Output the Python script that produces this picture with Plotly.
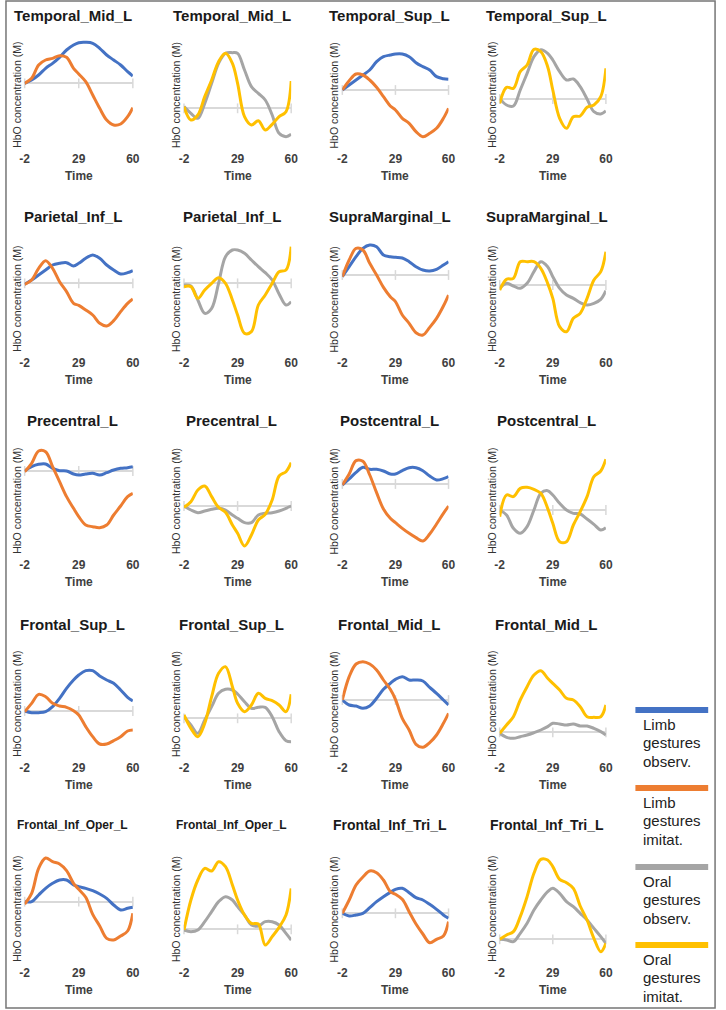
import plotly.graph_objects as go

W, H = 726, 1010
FONT = "Liberation Sans, Arial, sans-serif"

# ---------------- data ----------------
t = [-2, 2, 6, 10, 14, 18, 22, 26, 29, 33, 37, 41, 45, 49, 53, 57, 60]
x_ticks = [-2, 29, 60]
x_ticklabels = ["-2", "29", "60"]
y_title = "HbO concentration (M)"
x_title = "Time"

series_names = ["Limb gestures observ.", "Limb gestures imitat.",
                "Oral gestures observ.", "Oral gestures imitat."]
legend_lines = [["Limb", "gestures", "observ."], ["Limb", "gestures", "imitat."],
                ["Oral", "gestures", "observ."], ["Oral", "gestures", "imitat."]]
series_colors = ["#4472C4", "#ED7D31", "#A5A5A5", "#FFC000"]

region_titles = [
    ["Temporal_Mid_L", "Temporal_Mid_L", "Temporal_Sup_L", "Temporal_Sup_L"],
    ["Parietal_Inf_L", "Parietal_Inf_L", "SupraMarginal_L", "SupraMarginal_L"],
    ["Precentral_L", "Precentral_L", "Postcentral_L", "Postcentral_L"],
    ["Frontal_Sup_L", "Frontal_Sup_L", "Frontal_Mid_L", "Frontal_Mid_L"],
    ["Frontal_Inf_Oper_L", "Frontal_Inf_Oper_L", "Frontal_Inf_Tri_L", "Frontal_Inf_Tri_L"],
]

# HbO values (arbitrary units, relative to baseline 0)
tmid_limb_obs = [0, 10, 25, 45, 60, 78, 100, 115, 122, 123, 120, 105, 85, 70, 55, 35, 22]
tmid_limb_imi = [0, 15, 55, 70, 75, 83, 78, 45, 28, 5, -35, -75, -110, -125, -122, -100, -73]
tmid_oral_obs = [5, -15, -30, 15, 75, 135, 165, 167, 165, 115, 65, 45, 25, -20, -75, -85, -78]
tmid_oral_imi = [5, -35, -20, 35, 85, 140, 165, 135, 75, -25, -50, -37, -65, -48, -25, -10, 82]

tsup_limb_obs = [0, 15, 30, 45, 60, 85, 100, 105, 108, 108, 100, 82, 70, 60, 40, 34, 32]
tsup_limb_imi = [0, 28, 48, 45, 30, 8, -20, -48, -60, -85, -100, -125, -140, -130, -115, -85, -55]
tsup_oral_obs = [2, -18, -21, 27, 77, 127, 148, 137, 117, 82, 57, 60, 37, 0, -38, -45, -36]
tsup_oral_imi = [-13, 35, 32, 82, 102, 149, 142, 97, 27, -58, -88, -53, -51, -25, -18, 7, 92]

pinf_limb_obs = [-3, 10, 25, 40, 55, 60, 62, 52, 60, 75, 85, 75, 55, 40, 28, 32, 38]
pinf_limb_imi = [-3, 10, 45, 68, 45, 5, -25, -60, -66, -80, -95, -120, -128, -112, -85, -60, -47]
pinf_oral_obs = [-5, -8, -50, -90, -75, 0, 80, 100, 100, 90, 70, 50, 32, 10, -32, -65, -55]
pinf_oral_imi = [-10, -10, -45, -20, 0, 17, 0, -50, -95, -150, -145, -65, -35, 0, 35, 40, 110]

smarg_limb_obs = [-5, 25, 55, 80, 90, 85, 60, 55, 53, 51, 40, 25, 15, 12, 17, 30, 40]
smarg_limb_imi = [-5, 45, 80, 75, 35, 0, -37, -65, -80, -120, -145, -173, -180, -157, -130, -93, -60]
smarg_oral_obs = [-10, 5, -3, -10, 5, 40, 70, 55, 25, -10, -30, -40, -53, -60, -55, -43, -17]
smarg_oral_imi = [-15, 17, 20, 70, 70, 70, 50, 5, -40, -125, -140, -100, -85, -40, 15, 40, 100]

prec_limb_obs = [0, 13, 20, 21, 8, 1, 0, -9, -12, -9, -7, -12, -5, 3, 8, 10, 13]
prec_limb_imi = [-2, 23, 60, 58, 13, -32, -77, -112, -137, -162, -167, -170, -162, -132, -105, -77, -67]
prec_oral_obs = [0, -12, -20, -15, -10, -7, -12, -27, -37, -50, -50, -27, -22, -20, -15, -7, 0]
prec_oral_imi = [-4, 13, 48, 60, 28, -4, -19, -57, -82, -120, -87, -42, -25, 18, 90, 103, 130]

postc_limb_obs = [-3, 15, 35, 50, 44, 44, 39, 30, 30, 40, 49, 49, 40, 24, 12, 16, 22]
postc_limb_imi = [-3, 30, 70, 68, 27, -26, -75, -103, -116, -133, -148, -161, -171, -150, -120, -88, -66]
postc_oral_obs = [0, -15, -55, -70, -50, 0, 50, 58, 45, 20, 0, -10, -12, -27, -43, -60, -53]
postc_oral_imi = [-20, 45, 40, 65, 68, 62, 50, 5, -40, -95, -95, -45, -5, 40, 100, 117, 152]

fsup_limb_obs = [0, -5, -5, -2, 13, 38, 68, 93, 108, 121, 121, 105, 93, 83, 63, 41, 30]
fsup_limb_imi = [-2, 23, 50, 43, 23, 15, 11, 1, -12, -47, -77, -99, -99, -89, -77, -60, -57]
fsup_oral_obs = [5, -20, -45, -5, 35, 75, 87, 85, 73, 50, 30, 33, 33, 5, -40, -67, -70]
fsup_oral_imi = [10, -30, -55, -15, 65, 135, 155, 95, 45, 20, 40, 75, 60, 53, 40, 20, 72]

fmid_limb_obs = [0, -15, -18, -25, -18, 5, 32, 50, 62, 70, 60, 60, 57, 38, 20, 0, -15]
fmid_limb_imi = [0, 70, 108, 115, 108, 90, 60, 32, 2, -55, -90, -133, -142, -128, -105, -70, -40]
fmid_oral_obs = [-3, -15, -18, -13, -8, -1, 7, 17, 27, 25, 22, 25, 19, 19, 12, 2, -8]
fmid_oral_imi = [-3, 22, 47, 97, 137, 172, 185, 162, 147, 127, 102, 97, 77, 47, 45, 47, 82]

finfo_limb_obs = [0, 0, 20, 40, 55, 65, 65, 50, 45, 40, 33, 23, 10, -10, -25, -20, -17]
finfo_limb_imi = [-7, 25, 100, 131, 120, 113, 93, 55, 37, 13, -38, -73, -110, -115, -103, -88, -35]
finfo_oral_obs = [-2, -7, -2, 23, 53, 83, 98, 88, 68, 43, 13, 10, 23, 23, 13, -12, -32]
finfo_oral_imi = [-2, 88, 148, 183, 175, 203, 188, 133, 88, 43, 18, 16, -47, -22, 6, 43, 123]

ftri_limb_obs = [0, -8, -5, 0, 17, 35, 50, 63, 72, 75, 62, 47, 40, 27, 12, -5, -15]
ftri_limb_imi = [0, 40, 85, 109, 127, 122, 100, 65, 57, 42, 5, -32, -62, -88, -78, -68, -25]
ftri_oral_obs = [0, -2, -7, 18, 48, 88, 118, 143, 153, 138, 113, 98, 78, 58, 33, 8, -12]
ftri_oral_imi = [0, 13, 23, 68, 128, 198, 240, 238, 218, 180, 170, 153, 100, 58, 3, -37, -12]

# (series index list, value lists) per panel, row by row
panel_series = [
    [([0, 1], [tmid_limb_obs, tmid_limb_imi]), ([2, 3], [tmid_oral_obs, tmid_oral_imi]),
     ([0, 1], [tsup_limb_obs, tsup_limb_imi]), ([2, 3], [tsup_oral_obs, tsup_oral_imi])],
    [([0, 1], [pinf_limb_obs, pinf_limb_imi]), ([2, 3], [pinf_oral_obs, pinf_oral_imi]),
     ([0, 1], [smarg_limb_obs, smarg_limb_imi]), ([2, 3], [smarg_oral_obs, smarg_oral_imi])],
    [([0, 1], [prec_limb_obs, prec_limb_imi]), ([2, 3], [prec_oral_obs, prec_oral_imi]),
     ([0, 1], [postc_limb_obs, postc_limb_imi]), ([2, 3], [postc_oral_obs, postc_oral_imi])],
    [([0, 1], [fsup_limb_obs, fsup_limb_imi]), ([2, 3], [fsup_oral_obs, fsup_oral_imi]),
     ([0, 1], [fmid_limb_obs, fmid_limb_imi]), ([2, 3], [fmid_oral_obs, fmid_oral_imi])],
    [([0, 1], [finfo_limb_obs, finfo_limb_imi]), ([2, 3], [finfo_oral_obs, finfo_oral_imi]),
     ([0, 1], [ftri_limb_obs, ftri_limb_imi]), ([2, 3], [ftri_oral_obs, ftri_oral_imi])],
]

# y-axis ranges per panel (axis setting, same units as data)
y_ranges = [
    [[-200, 139], [-125, 214], [-180, 159], [-153, 186]],
    [[-212, 127], [-212, 127], [-237, 102], [-207, 132]],
    [[-255, 84], [-150, 189], [-216, 123], [-138, 201]],
    [[-144, 195], [-122, 217], [-177, 162], [-80, 259]],
    [[-187, 152], [-104, 235], [-152, 187], [-74, 265]],
]

# ---------------- layout geometry (pixels) ----------------
col_left = [20, 182, 343, 503]
col_right = [130, 291, 451, 611]
row_top = [37, 241, 443, 646, 851]
row_bottom = [150, 354, 556, 759, 964]
title_y = [15, 217, 421, 624, 825]
title_size = [[15, 15, 15, 15]] * 4 + [[12, 12, 14, 14]]
legend_bar_y = [710, 788, 867, 945]
legend_x0, legend_x1, legend_text_x = 641, 715, 647


def px(x):
    return x / W


def py(y):
    return 1 - y / H


fig = go.Figure()
layout = {}
annotations = []
shapes = []

for r in range(5):
    for c in range(4):
        n = r * 4 + 1 + c
        xa = "x" if n == 1 else f"x{n}"
        ya = "y" if n == 1 else f"y{n}"
        # small tick marks on the baseline axis
        fig.add_trace(go.Scatter(
            x=x_ticks, y=[0] * len(x_ticks), mode="markers",
            marker=dict(symbol="line-ns", size=7, line=dict(color="#d9d9d9", width=1.5)),
            cliponaxis=False, hoverinfo="skip", showlegend=False,
            xaxis=xa, yaxis=ya))
        idxs, vals = panel_series[r][c]
        for si, v in zip(idxs, vals):
            fig.add_trace(go.Scatter(
                x=t, y=v, mode="lines", name=series_names[si],
                line=dict(color=series_colors[si], width=3, shape="spline", smoothing=1.0),
                showlegend=False, xaxis=xa, yaxis=ya))
        layout["xaxis" if n == 1 else f"xaxis{n}"] = dict(
            domain=[px(col_left[c]), px(col_right[c])], range=[-2, 60], anchor=ya,
            tickvals=x_ticks, ticktext=[f"<b>{s}</b>" for s in x_ticklabels],
            tickfont=dict(family=FONT, size=12, color="#404040"),
            showgrid=False, zeroline=False, showline=False, ticks="", fixedrange=True)
        layout["yaxis" if n == 1 else f"yaxis{n}"] = dict(
            domain=[py(row_bottom[r]), py(row_top[r])], range=y_ranges[r][c], anchor=xa,
            showticklabels=False, showgrid=False, showline=False, ticks="",
            zeroline=True, zerolinecolor="#d9d9d9", zerolinewidth=1.5, fixedrange=True)
        cx = (col_left[c] + col_right[c]) / 2
        annotations.append(dict(
            text=f"<b>{region_titles[r][c]}</b>", x=px(cx - 6), y=py(title_y[r]),
            xref="paper", yref="paper", xanchor="center", yanchor="middle", showarrow=False,
            font=dict(family=FONT, size=title_size[r][c], color="#1a1a1a")))
        annotations.append(dict(
            text=y_title, x=px(col_left[c] - 8), y=py(row_bottom[r] - 55),
            xref="paper", yref="paper", xanchor="center", yanchor="middle", showarrow=False,
            textangle=-90, font=dict(family=FONT, size=10.5, color="#333333")))
        annotations.append(dict(
            text=f"<b>{x_title}</b>", x=px(cx), y=py(row_bottom[r] + 26),
            xref="paper", yref="paper", xanchor="center", yanchor="middle", showarrow=False,
            font=dict(family=FONT, size=12, color="#404040")))

# legend (drawn manually to match the original layout)
for i, by in enumerate(legend_bar_y):
    shapes.append(dict(type="line", xref="paper", yref="paper",
                       x0=px(legend_x0), x1=px(legend_x1), y0=py(by), y1=py(by),
                       line=dict(color=series_colors[i], width=6)))
    for k, txt in enumerate(legend_lines[i]):
        annotations.append(dict(
            text=txt, x=px(legend_text_x), y=py(by + 14 + 18.5 * k),
            xref="paper", yref="paper", xanchor="left", yanchor="middle", showarrow=False,
            font=dict(family=FONT, size=15, color="#222222")))

# outer frame
shapes.append(dict(type="rect", xref="paper", yref="paper",
                   x0=px(1), x1=px(722), y0=py(1008), y1=py(1),
                   line=dict(color="#767676", width=1.5), fillcolor="rgba(0,0,0,0)"))

fig.update_layout(
    width=W, height=H, margin=dict(l=0, r=0, t=0, b=0),
    paper_bgcolor="white", plot_bgcolor="white", showlegend=False,
    annotations=annotations, shapes=shapes, **layout)

fig.write_html("out.html", config={"displayModeBar": False},
               post_script="document.body.style.margin='0';")
